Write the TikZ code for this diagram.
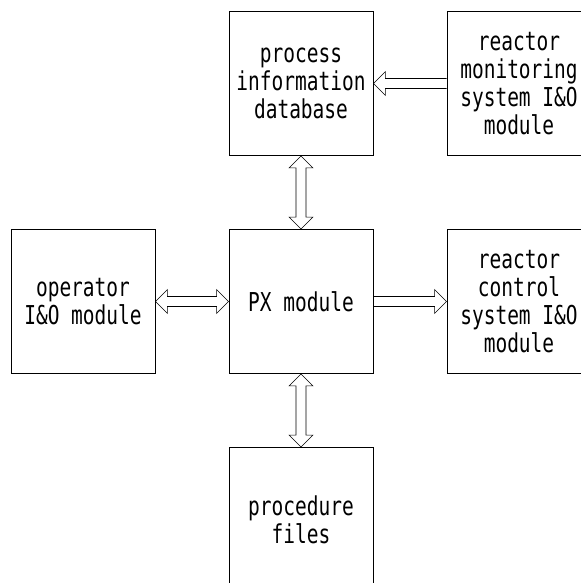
\documentclass[tikz,border=0pt]{standalone}
\usepackage{fontspec}
\usetikzlibrary{calc}
\newfontfamily\boxfont[FakeStretch=0.75]{DejaVu Sans Mono}

\tikzstyle{module}=[rectangle,minimum width=3.6cm,minimum height=3.6cm,text centered,align=center,draw=black,line width=0.6pt,font=\boxfont\fontsize{18.5pt}{19.9pt}\selectfont]
\tikzstyle{onehead}=[line width=0.5pt,to path={let \p1=($(\tikztotarget)!0.3cm!(\tikztostart)$) in
  ($(\tikztostart)!0.125cm!90:(\tikztotarget)$) -- ($(\p1)!0.125cm!90:(\tikztotarget)$)
  -- ($(\p1)!0.3cm!90:(\tikztotarget)$) -- (\tikztotarget)
  -- ($(\p1)!0.3cm!-90:(\tikztotarget)$) -- ($(\p1)!0.125cm!-90:(\tikztotarget)$)
  -- ($(\tikztostart)!0.125cm!-90:(\tikztotarget)$)}]
\tikzstyle{twohead}=[line width=0.5pt,to path={let \p1=($(\tikztostart)!0.3cm!(\tikztotarget)$),\p2=($(\tikztotarget)!0.3cm!(\tikztostart)$) in
  ($(\p1)!0.125cm!90:(\tikztotarget)$) -- ($(\p2)!0.125cm!90:(\tikztotarget)$)
  -- ($(\p2)!0.3cm!90:(\tikztotarget)$) -- (\tikztotarget)
  -- ($(\p2)!0.3cm!-90:(\tikztotarget)$) -- ($(\p2)!0.125cm!-90:(\tikztotarget)$)
  -- ($(\p1)!0.125cm!-90:(\tikztotarget)$) -- ($(\p1)!0.3cm!-90:(\tikztotarget)$)
  -- (\tikztostart) -- ($(\p1)!0.3cm!90:(\tikztotarget)$) -- cycle}]

\begin{document}
\begin{tikzpicture}
\useasboundingbox (-7.525,2.0875) rectangle (7.0,-12.4875);
\node(database)[module]{process\\information\\database};
\node(monitoring)[module,right of=database,xshift=4.45cm]{reactor\\monitoring\\system I\&O\\module};
\node(px)[module,below of=database,yshift=-4.45cm]{PX module};
\node(operator)[module,left of=px,xshift=-4.45cm]{operator\\I\&O module};
\node(control)[module,right of=px,xshift=4.45cm]{reactor\\control\\system I\&O\\module};
\node(procedure)[module,below of=px,yshift=-4.45cm]{procedure\\files};
\draw(monitoring.west) to[onehead] (database.east);
\draw(database.south) to[twohead] (px.north);
\draw(operator.east) to[twohead] (px.west);
\draw(px.east) to[onehead] (control.west);
\draw(px.south) to[twohead] (procedure.north);
\end{tikzpicture}
\end{document}
